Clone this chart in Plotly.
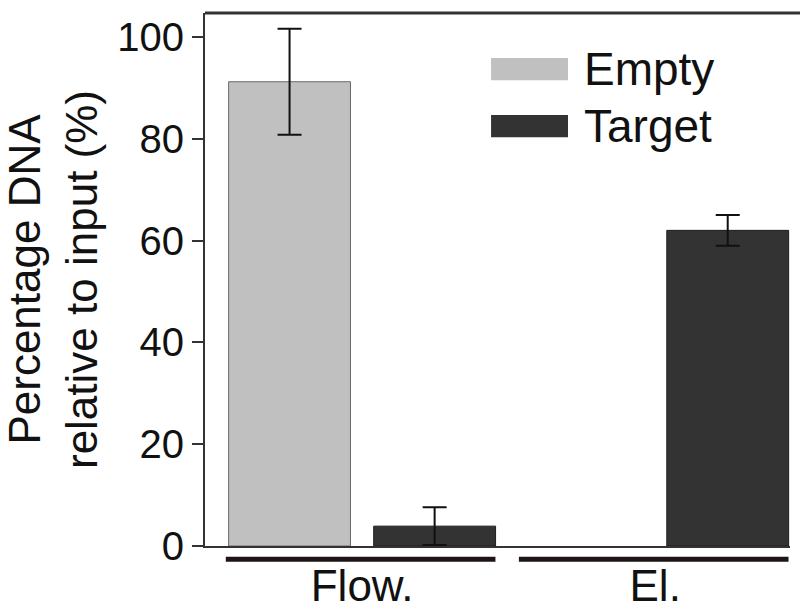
import plotly.graph_objects as go

categories = ["Flow.", "El."]
series_names = ["Empty", "Target"]
empty_values = [91.2, None]
empty_errors = [10.4, 0]
target_values = [3.9, 62.0]
target_errors = [3.7, 3.0]
y_ticks = [0, 20, 40, 60, 80, 100]

colors = {"Empty": "#c0c0c0", "Target": "#333333"}
outlines = {"Empty": "#6a6a6a", "Target": "#1e1e1e"}
FONT = "Liberation Sans, Arial, sans-serif"

fig = go.Figure()
for name, vals, errs in [("Empty", empty_values, empty_errors),
                         ("Target", target_values, target_errors)]:
    fig.add_trace(go.Bar(
        x=categories, y=vals, name=name,
        marker=dict(color=colors[name], line=dict(color=outlines[name], width=1)),
        error_y=dict(type="data", array=errs, visible=True, color="#111111",
                     thickness=2, width=12),
        showlegend=False,
    ))

shapes = []
# group underlines beneath categories
for i, _ in enumerate(categories):
    shapes.append(dict(type="line", xref="x", yref="paper",
                       x0=i - 0.465, x1=i + 0.455, y0=-0.025, y1=-0.025,
                       line=dict(color="#1e1414", width=5)))
# top border
shapes.append(dict(type="line", xref="paper", yref="paper",
                   x0=0, x1=1.03, y0=1, y1=1,
                   line=dict(color="#333333", width=3)))
# manual legend swatches
legend_y = [(0.874, 0.9156), (0.767, 0.8086)]
annotations = []
for name, (ya, yb) in zip(series_names, legend_y):
    shapes.append(dict(type="rect", xref="paper", yref="paper",
                       x0=0.489, x1=0.6205, y0=ya, y1=yb,
                       fillcolor=colors[name], line=dict(width=0)))
    annotations.append(dict(xref="paper", yref="paper", x=0.644, y=(ya + yb) / 2,
                            text=name, showarrow=False, xanchor="left", yanchor="middle",
                            font=dict(family=FONT, size=46, color="#111111")))

fig.update_layout(
    width=800, height=615,
    margin=dict(l=205, r=10, t=13, b=69, autoexpand=False),
    paper_bgcolor="white", plot_bgcolor="white",
    barmode="group", bargap=0.01, bargroupgap=0.16,
    shapes=shapes, annotations=annotations,
    font=dict(family=FONT, color="#111111"),
)
fig.update_xaxes(
    range=[-0.536, 1.46], showline=True, linecolor="#333333", linewidth=2,
    ticks="", showgrid=False, tickfont=dict(size=44, family=FONT),
    ticklabelstandoff=0, automargin=False,
)
fig.update_yaxes(
    range=[0, 104.7], tickvals=y_ticks, ticks="outside", ticklen=11, tickwidth=2,
    tickcolor="#333333", showline=True, linecolor="#333333", linewidth=2,
    showgrid=False, zeroline=False, tickfont=dict(size=40, family=FONT),
    automargin=False,
    title=dict(text="Percentage DNA<br>relative to input (%)",
               font=dict(size=44, family=FONT), standoff=18),
)
fig.write_html("out.html")
